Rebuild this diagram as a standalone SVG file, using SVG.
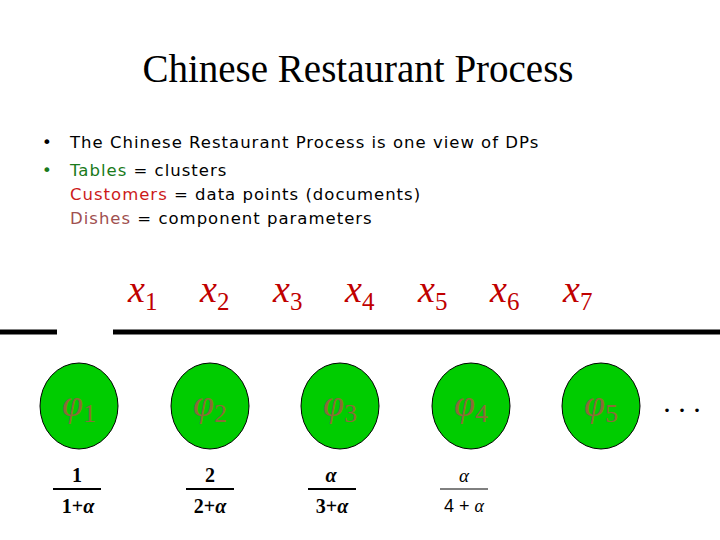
<svg xmlns="http://www.w3.org/2000/svg" width="720" height="540" viewBox="0 0 720 540">
<style>
.b{font-family:"DejaVu Sans",sans-serif;font-size:16.5px;fill:#000;letter-spacing:1px}
.x{font-family:"Liberation Serif",serif;font-style:italic;font-size:38px;fill:#c00000}
.xs{font-style:normal;font-size:25px}
.t{fill:#00cc00;stroke:#000;stroke-width:1}
.p{font-family:"Liberation Serif",serif;font-style:italic;font-size:38px;fill:#8a6a3a}
.ps{font-style:normal;font-size:26px}
.f{font-family:"Liberation Serif",serif;font-size:20px;fill:#000;text-anchor:middle;font-weight:bold}
.fl{stroke:#000;stroke-width:2}
</style>
<rect width="720" height="540" fill="#fff"/>
<text x="358" y="82" text-anchor="middle" style="font-family:'Liberation Serif',serif;font-size:39px">Chinese Restaurant Process</text>
<g id="bullets">
<text class="b" x="42" y="148">•</text>
<text class="b" x="70" y="148">The Chinese Restaurant Process is one view of DPs</text>
<text class="b" x="42" y="176" style="fill:#1a7a1a">•</text>
<text class="b" x="70" y="176"><tspan fill="#1a7a1a">Tables</tspan> = clusters</text>
<text class="b" x="70" y="200"><tspan fill="#cc1a1a">Customers</tspan> = data points (documents)</text>
<text class="b" x="70" y="224"><tspan fill="#a05050">Dishes</tspan> = component parameters</text>
</g>
<g id="customers">
<text class="x" x="128" y="302">x<tspan class="xs" dy="8">1</tspan></text>
<text class="x" x="200" y="302">x<tspan class="xs" dy="8">2</tspan></text>
<text class="x" x="273" y="302">x<tspan class="xs" dy="8">3</tspan></text>
<text class="x" x="345" y="302">x<tspan class="xs" dy="8">4</tspan></text>
<text class="x" x="418" y="302">x<tspan class="xs" dy="8">5</tspan></text>
<text class="x" x="490" y="302">x<tspan class="xs" dy="8">6</tspan></text>
<text class="x" x="563" y="302">x<tspan class="xs" dy="8">7</tspan></text>
</g>
<g id="lines">
<line x1="0" y1="332" x2="57" y2="332" stroke="#000" stroke-width="5"/>
<line x1="113" y1="332" x2="720" y2="332" stroke="#000" stroke-width="5"/>
</g>
<g id="table1"><ellipse class="t" cx="79" cy="406" rx="39" ry="43"/><text class="p" x="62" y="416">φ<tspan class="ps" dy="6">1</tspan></text></g>
<g id="table2"><ellipse class="t" cx="210" cy="406" rx="39" ry="43"/><text class="p" x="193" y="416">φ<tspan class="ps" dy="6">2</tspan></text></g>
<g id="table3"><ellipse class="t" cx="340" cy="406" rx="39" ry="43"/><text class="p" x="323" y="416">φ<tspan class="ps" dy="6">3</tspan></text></g>
<g id="table4"><ellipse class="t" cx="471" cy="406" rx="39" ry="43"/><text class="p" x="454" y="416">φ<tspan class="ps" dy="6">4</tspan></text></g>
<g id="table5"><ellipse class="t" cx="601" cy="406" rx="39" ry="43"/><text class="p" x="584" y="416">φ<tspan class="ps" dy="6">5</tspan></text></g>
<text x="682" y="412" text-anchor="middle" style="font-family:'Liberation Serif',serif;font-size:30px">. . .</text>
<g id="probs">
<text class="f" x="77" y="482">1</text>
<line class="fl" x1="53" y1="489" x2="101" y2="489"/>
<text class="f" x="78" y="513">1+<tspan font-style="italic">α</tspan></text>
<text class="f" x="210" y="482">2</text>
<line class="fl" x1="186" y1="489" x2="234" y2="489"/>
<text class="f" x="210" y="513">2+<tspan font-style="italic">α</tspan></text>
<text class="f" x="331" y="482" font-style="italic">α</text>
<line class="fl" x1="308" y1="489" x2="356" y2="489"/>
<text class="f" x="332" y="513">3+<tspan font-style="italic">α</tspan></text>
<text x="464" y="482" text-anchor="middle" style="font-family:'Liberation Serif',serif;font-style:italic;font-size:19px">α</text>
<line x1="440" y1="489" x2="488" y2="489" stroke="#000" stroke-width="1"/>
<text x="464" y="512" text-anchor="middle" style="font-family:'Liberation Sans',sans-serif;font-size:18px">4 + <tspan font-style="italic" font-family="Liberation Serif">α</tspan></text>
</g>
</svg>
